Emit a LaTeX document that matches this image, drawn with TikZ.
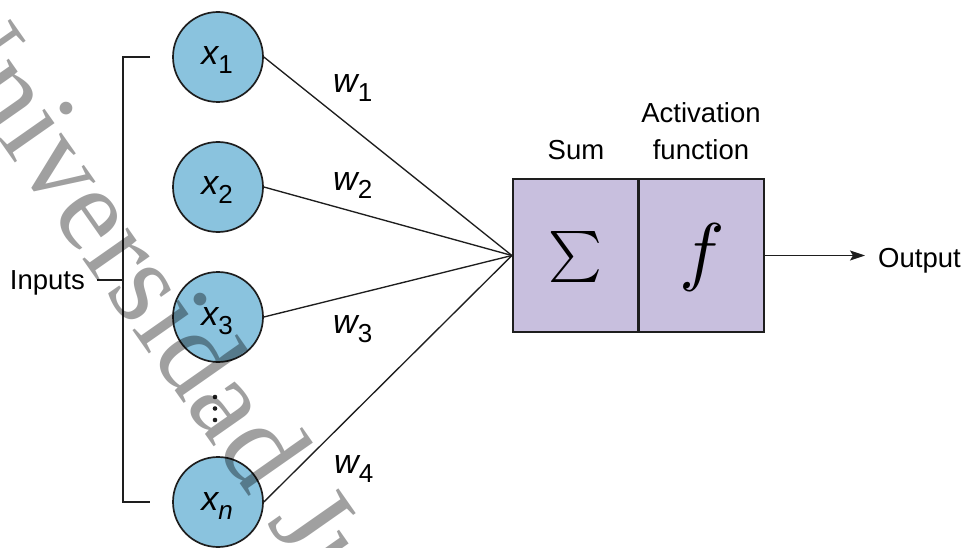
\documentclass[tikz,border=0pt]{standalone}
\usepackage{fontspec}
\setmainfont{Liberation Sans}
\newfontfamily\wmfont{Liberation Serif}
\usetikzlibrary{arrows.meta}

\definecolor{inblue}{RGB}{138,195,222}
\definecolor{boxlav}{RGB}{200,191,222}
\definecolor{ink}{RGB}{30,30,30}
\definecolor{wmgray}{RGB}{160,160,160}

% variable with subscript, e.g. \varsub{x}{1}; digits stay upright
\newcommand\varsub[2]{{\fontsize{34}{36}\selectfont\itshape #1}\raisebox{-9pt}{\fontsize{26}{28}\selectfont #2}}

\tikzset{
  inp/.style={circle, draw=ink, line width=1.7pt, fill=inblue, minimum size=90pt, inner sep=0pt},
  varlab/.style={inner sep=0pt, anchor=base},
  lbl/.style={font=\fontsize{27.5}{30}\selectfont, inner sep=0pt},
  unitbox/.style={rectangle, draw=ink, line width=2.2pt, fill=boxlav, minimum width=125.5pt, minimum height=153pt, inner sep=0pt},
  wire/.style={draw=ink, line width=1.35pt},
  brk/.style={draw=ink, line width=1.8pt},
}

\begin{document}
\begin{tikzpicture}[x=1pt, y=-1pt]
\useasboundingbox (0,0) rectangle (966,548);

% input neurons
\node[inp] (x1) at (218,57) {};
\node[inp] (x2) at (218,187) {};
\node[inp] (x3) at (218,317) {};
\node[inp] (xn) at (218,502) {};
\node[varlab] (tx1) at (217,65) {\varsub{x}{1}};
\node[varlab] (tx2) at (217,195) {\varsub{x}{2}};
\node[varlab] (tx3) at (217,325) {\varsub{x}{3}};
\node[varlab] (txn) at (217,510) {\varsub{x}{\itshape n}};

% vertical ellipsis between x3 and xn
\fill[ink] (215,397) circle (2.3) (215,408.5) circle (2.3) (215,420) circle (2.3);

% summation and activation units
\node[unitbox] (sum) at (575.75,255.5) {};
\node[unitbox] (act) at (701.25,255.5) {};
\node[inner sep=0pt, scale=5.1] (sig) at (575,257) {$\sum$};
\node[inner sep=0pt, scale=7.6] (fn) at (702,257) {$f$};
\node[lbl, anchor=base] (suml) at (576,160) {Sum};
\node[lbl, anchor=base] (actl) at (701,123) {Activation};
\node[lbl, anchor=base] (actm) at (701,160) {function};

% weighted connections
\draw[wire] (x1.east) -- (sum.west);
\draw[wire] (x2.east) -- (sum.west);
\draw[wire] (x3.east) -- (sum.west);
\draw[wire] (xn.east) -- (sum.west);
\node[varlab, anchor=base west] (w1) at (333,93) {\varsub{w}{1}};
\node[varlab, anchor=base west] (w2) at (333,190) {\varsub{w}{2}};
\node[varlab, anchor=base west] (w3) at (333,333) {\varsub{w}{3}};
\node[varlab, anchor=base west] (w4) at (334,473) {\varsub{w}{4}};

% output
\node[lbl, anchor=base west, inner xsep=13pt] (outp) at (865,267) {Output};
\draw[wire, -{Stealth[length=15pt, width=10pt, inset=3pt]}] (act.east) -- (outp.west |- act.east);

% inputs bracket
\coordinate (btop) at (150,57);
\coordinate (btl) at (123,57);
\coordinate (bbl) at (123,502);
\coordinate (bbot) at (150,502);
\coordinate (bmid) at (123,280);
\draw[brk] (btop) -- (btl) -- (bbl) -- (bbot);
\node[lbl, anchor=base east, inner xsep=12pt] (inl) at (97,289) {Inputs};
\draw[brk] (inl.east |- bmid) -- (bmid);

% watermark, multiplied onto the drawing
\begin{scope}[blend mode=multiply]
\clip (0,0) rectangle (966,548);
\node[inner sep=0pt, anchor=base west, rotate=-55, text=wmgray,
      font=\wmfont\fontsize{120}{130}\selectfont] (wm) at (-87,17) {Universidad Ju};
\end{scope}
\end{tikzpicture}
\end{document}
